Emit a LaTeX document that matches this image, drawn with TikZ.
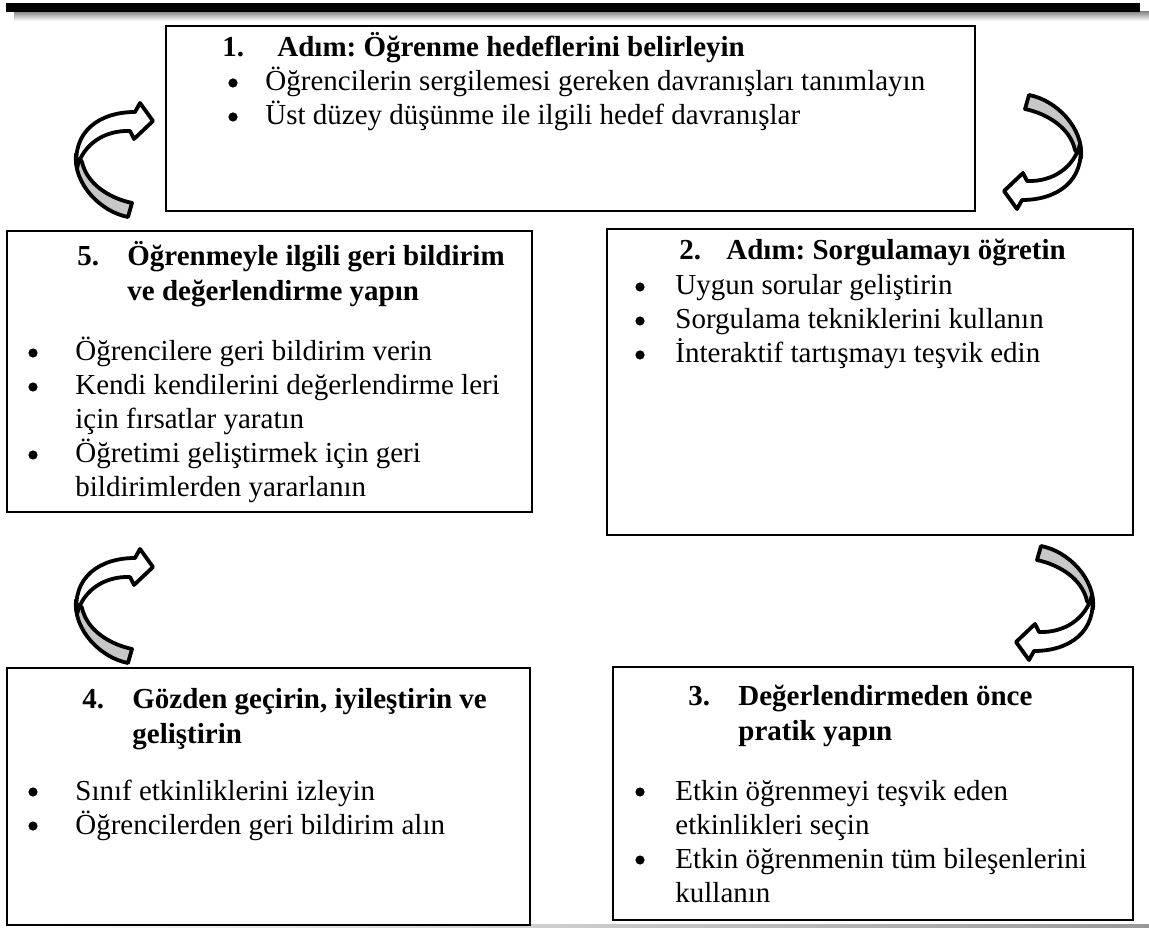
\documentclass[tikz,border=0pt]{standalone}
\usepackage{fontspec}
\setmainfont{Liberation Serif}
\usetikzlibrary{positioning}

\newcommand{\bodysize}{\fontsize{14.5}{17.5}\selectfont\frenchspacing}

\tikzset{
  turnarrow/.pic={
    % grey underside near the tail
    \filldraw[fill=black!22,line width=1.9pt,line join=round]
      (-37,-6) .. controls (-40,24) and (-12,52) .. (15,57)
      -- (19,43) .. controls (-4,38) and (-26,24) .. (-31,2) -- cycle;
    % white upper face with the head
    \filldraw[fill=white,line width=1.9pt,line join=round]
      (-36,8) .. controls (-41,-28) and (-14,-48) .. (22,-48)
      -- (27,-57) -- (40,-39) -- (21,-21) -- (17,-29)
      .. controls (-8,-30) and (-30,-16) .. (-36,8) -- cycle;
  }
}

\begin{document}
\begin{tikzpicture}[
    x=0.5pt, y=-0.5pt,
    stepbox/.style={draw,line width=1.2pt,inner sep=0pt,outer sep=0pt},
    txt/.style={anchor=base west,inner sep=0pt,font=\bodysize},
    headtxt/.style={txt,font=\bodysize\bfseries},
    dot/.style={circle,fill,inner sep=0pt,minimum size=4.6pt},
  ]
  \useasboundingbox (0,0) rectangle (1149,929);

  % page rules
  \shade[top color=black!45,bottom color=white] (14,12) rectangle (1149,21);
  \fill[black] (6,3) rectangle (1140,12);
  \shade[left color=white,right color=black!40] (0,924) rectangle (1149,927);

  % boxes
  \node[stepbox,minimum width=404.5pt,minimum height=92.5pt] (box1) at (570.5,118.5) {};
  \node[stepbox,minimum width=262.5pt,minimum height=140.5pt] (box5) at (269.5,371.5) {};
  \node[stepbox,minimum width=263pt,minimum height=153pt] (box2) at (870,382) {};
  \node[stepbox,minimum width=261.5pt,minimum height=128.5pt] (box4) at (268.5,796.5) {};
  \node[stepbox,minimum width=260pt,minimum height=126.5pt] (box3) at (873,793.5) {};

  % 1
  \node[headtxt] (n1) at (222,57) {1.};
  \node[headtxt] (h1) at (277,57) {Adım: Öğrenme hedeflerini belirleyin};
  \foreach \y/\t [count=\i] in {91/Öğrencilerin sergilemesi gereken davranışları tanımlayın,
                                125/Üst düzey düşünme ile ilgili hedef davranışlar} {
    \node[dot] (d1\i) at (233,\y-8) {};
    \node[txt] (t1\i) at (265,\y) {\t};
  }

  % 5
  \node[headtxt] (n5) at (77,266) {5.};
  \node[headtxt] (h5a) at (127,266) {Öğrenmeyle ilgili geri bildirim};
  \node[headtxt] (h5b) at (127,301) {ve değerlendirme yapın};
  \foreach \y/\t [count=\i] in {361/Öğrencilere geri bildirim verin,
                                395/Kendi kendilerini değerlendirme leri,
                                463/Öğretimi geliştirmek için geri} {
    \node[dot] (d5\i) at (33,\y-8) {};
    \node[txt] (t5\i) at (75,\y) {\t};
  }
  \node[txt] (c5a) at (75,429) {için fırsatlar yaratın};
  \node[txt] (c5b) at (75,497) {bildirimlerden yararlanın};

  % 2
  \node[headtxt] (n2) at (679,260) {2.};
  \node[headtxt] (h2) at (726,260) {Adım: Sorgulamayı öğretin};
  \foreach \y/\t [count=\i] in {295/Uygun sorular geliştirin,
                                329/Sorgulama tekniklerini kullanın,
                                363/İnteraktif tartışmayı teşvik edin} {
    \node[dot] (d2\i) at (640,\y-8) {};
    \node[txt] (t2\i) at (675,\y) {\t};
  }

  % 4
  \node[headtxt] (n4) at (82,708) {4.};
  \node[headtxt] (h4a) at (132,708) {Gözden geçirin, iyileştirin ve};
  \node[headtxt] (h4b) at (132,743) {geliştirin};
  \foreach \y/\t [count=\i] in {800/Sınıf etkinliklerini izleyin,
                                834/Öğrencilerden geri bildirim alın} {
    \node[dot] (d4\i) at (33,\y-8) {};
    \node[txt] (t4\i) at (75,\y) {\t};
  }

  % 3
  \node[headtxt] (n3) at (688,705) {3.};
  \node[headtxt] (h3a) at (738,705) {Değerlendirmeden önce};
  \node[headtxt] (h3b) at (738,740) {pratik yapın};
  \foreach \y/\t [count=\i] in {800/Etkin öğrenmeyi teşvik eden,
                                868/Etkin öğrenmenin tüm bileşenlerini} {
    \node[dot] (d3\i) at (640,\y-8) {};
    \node[txt] (t3\i) at (675,\y) {\t};
  }
  \node[txt] (c3a) at (675,834) {etkinlikleri seçin};
  \node[txt] (c3b) at (675,902) {kullanın};

  % turning arrows
  \pic at (113,160) {turnarrow};
  \pic[rotate=180] at (1044,152) {turnarrow};
  \pic at (113,606) {turnarrow};
  \pic[rotate=180] at (1056,603) {turnarrow};
\end{tikzpicture}
\end{document}
